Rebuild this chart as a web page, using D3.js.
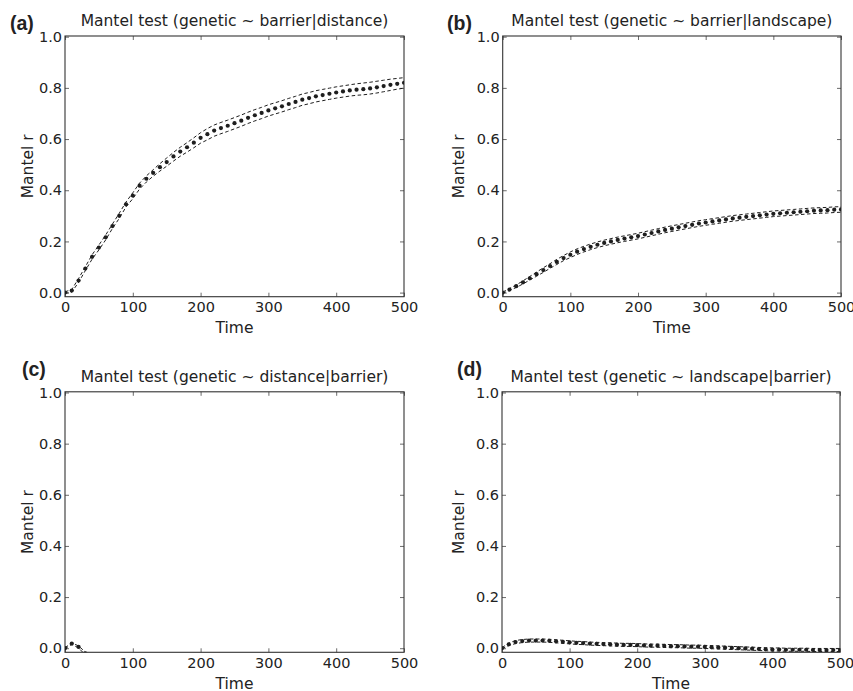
<!DOCTYPE html>
<html><head><meta charset="utf-8">
<script src="https://cdn.jsdelivr.net/npm/d3@7"></script>
<style>
body{margin:0;background:#fff;}
svg text{font-family:"DejaVu Sans",sans-serif;fill:#222;}
</style></head>
<body><svg id="c" width="853" height="691"></svg>
<script>
// ---- data ----
const times = [0,10,20,30,40,50,60,70,80,90,100,110,120,130,140,150,160,170,180,190,200,210,220,230,240,250,260,270,280,290,300,310,320,330,340,350,360,370,380,390,400,410,420,430,440,450,460,470,480,490,500];
const xTicks = [0,100,200,300,400,500];
const yTicks = [0.0,0.2,0.4,0.6,0.8,1.0];
const panelLabels = ["(a)","(b)","(c)","(d)"];
const titles = ["Mantel test (genetic ~ barrier|distance)","Mantel test (genetic ~ barrier|landscape)","Mantel test (genetic ~ distance|barrier)","Mantel test (genetic ~ landscape|barrier)"];

const aMean  = [0,0.008,0.047,0.094,0.14,0.176,0.216,0.26,0.3,0.345,0.379,0.418,0.445,0.468,0.49,0.51,0.532,0.551,0.568,0.586,0.605,0.619,0.633,0.643,0.652,0.662,0.672,0.683,0.693,0.702,0.712,0.72,0.728,0.737,0.745,0.754,0.76,0.767,0.772,0.777,0.782,0.786,0.79,0.793,0.795,0.798,0.802,0.807,0.812,0.816,0.82];
const aUpper = [0.003,0.012,0.055,0.101,0.148,0.186,0.225,0.268,0.31,0.354,0.39,0.428,0.456,0.48,0.504,0.526,0.548,0.568,0.586,0.605,0.625,0.641,0.655,0.665,0.674,0.684,0.694,0.705,0.715,0.724,0.734,0.742,0.75,0.759,0.767,0.776,0.782,0.789,0.794,0.799,0.804,0.808,0.812,0.816,0.819,0.822,0.826,0.83,0.834,0.837,0.84];
const aLower = [-0.003,0.002,0.04,0.086,0.131,0.167,0.206,0.251,0.29,0.335,0.367,0.405,0.432,0.455,0.475,0.494,0.514,0.533,0.549,0.566,0.584,0.597,0.611,0.621,0.63,0.64,0.65,0.661,0.671,0.68,0.69,0.698,0.706,0.715,0.723,0.732,0.738,0.745,0.75,0.755,0.76,0.764,0.768,0.771,0.773,0.776,0.78,0.785,0.79,0.795,0.799];

const bMean  = [0,0.012,0.025,0.04,0.056,0.072,0.088,0.104,0.12,0.135,0.148,0.16,0.17,0.179,0.187,0.194,0.2,0.206,0.211,0.216,0.221,0.227,0.233,0.239,0.245,0.25,0.255,0.26,0.265,0.27,0.274,0.278,0.282,0.286,0.29,0.293,0.296,0.299,0.302,0.305,0.308,0.31,0.312,0.314,0.316,0.318,0.32,0.321,0.322,0.324,0.325];
const bUpper = [0.002,0.016,0.03,0.046,0.063,0.08,0.097,0.113,0.13,0.145,0.159,0.171,0.181,0.19,0.198,0.205,0.211,0.217,0.222,0.227,0.232,0.238,0.244,0.25,0.256,0.261,0.266,0.271,0.276,0.281,0.285,0.289,0.293,0.297,0.301,0.304,0.307,0.31,0.313,0.316,0.319,0.321,0.323,0.325,0.327,0.329,0.331,0.332,0.333,0.335,0.336];
const bLower = [-0.002,0.008,0.02,0.034,0.049,0.064,0.079,0.095,0.11,0.125,0.137,0.149,0.159,0.168,0.176,0.183,0.189,0.195,0.2,0.205,0.21,0.216,0.222,0.228,0.234,0.239,0.244,0.249,0.254,0.259,0.263,0.267,0.271,0.275,0.279,0.282,0.285,0.288,0.291,0.294,0.297,0.299,0.301,0.303,0.305,0.307,0.309,0.31,0.311,0.313,0.314];

const cTimes = [0,10,20,30];
const cMean  = [0,0.018,0.005,-0.02];
const cUpper = [0.002,0.021,0.009,-0.015];
const cLower = [-0.002,0.015,0.001,-0.026];

const dMean  = [0,0.015,0.024,0.028,0.03,0.03,0.03,0.029,0.027,0.025,0.023,0.021,0.02,0.018,0.017,0.016,0.015,0.014,0.013,0.013,0.012,0.011,0.01,0.01,0.009,0.008,0.008,0.007,0.006,0.006,0.005,0.004,0.003,0.002,0.001,0,-0.001,-0.002,-0.003,-0.004,-0.005,-0.005,-0.006,-0.006,-0.006,-0.006,-0.007,-0.007,-0.007,-0.007,-0.007];
const dUpper = [0.002,0.02,0.03,0.034,0.036,0.036,0.036,0.035,0.033,0.031,0.029,0.027,0.026,0.024,0.023,0.022,0.021,0.02,0.019,0.019,0.018,0.017,0.016,0.016,0.015,0.014,0.014,0.013,0.012,0.012,0.011,0.01,0.009,0.008,0.007,0.006,0.005,0.004,0.003,0.002,0.001,0.001,0,0,0,0,-0.001,-0.001,-0.001,-0.001,-0.001];
const dLower = [-0.002,0.01,0.018,0.022,0.024,0.024,0.024,0.023,0.021,0.019,0.017,0.015,0.014,0.012,0.011,0.01,0.009,0.008,0.007,0.007,0.006,0.005,0.004,0.004,0.003,0.002,0.002,0.001,0,0,-0.001,-0.002,-0.003,-0.004,-0.005,-0.006,-0.007,-0.008,-0.009,-0.01,-0.011,-0.011,-0.012,-0.012,-0.012,-0.012,-0.013,-0.013,-0.013,-0.013,-0.013];

// ---- layout ----
const svg = d3.select("#c");
const boxes = [
  {x0:65,  x1:404, y0:36,  y1:296.7, lx:28,  labX:10,  labY:30},
  {x0:502.7, x1:841, y0:36,  y1:296.7, lx:459, labX:447, labY:30},
  {x0:65,  x1:404, y0:391.8, y1:652.3, lx:28,  labX:22,  labY:376},
  {x0:502, x1:840, y0:391.8, y1:652.3, lx:459, labX:457, labY:376}
];
const series = [
  {t:times, m:aMean, u:aUpper, l:aLower},
  {t:times, m:bMean, u:bUpper, l:bLower},
  {t:cTimes, m:cMean, u:cUpper, l:cLower},
  {t:times, m:dMean, u:dUpper, l:dLower}
];
const ink = "#1e1e1e";

boxes.forEach((b,i)=>{
  const x = d3.scaleLinear().domain([0,500]).range([b.x0,b.x1]);
  const y = d3.scaleLinear().domain([-0.016,1.0]).range([b.y1,b.y0+0.7]);
  const g = svg.append("g");
  const cid = "clip"+i;
  svg.append("clipPath").attr("id",cid).append("rect")
    .attr("x",b.x0).attr("y",b.y0).attr("width",b.x1-b.x0).attr("height",b.y1-b.y0);

  // axes
  const ax = [
    d3.axisBottom(x).tickValues(xTicks).tickSize(-4).tickPadding(5).tickFormat(d3.format("d")),
    d3.axisTop(x).tickValues(xTicks).tickSize(-4).tickFormat(""),
    d3.axisLeft(y).tickValues(yTicks).tickSize(-4).tickPadding(3).tickFormat(d3.format(".1f")),
    d3.axisRight(y).tickValues(yTicks).tickSize(-4).tickFormat("")
  ];
  const pos = [[0,b.y1],[0,b.y0],[b.x0,0],[b.x1,0]];
  ax.forEach((a,k)=>{
    const ag = g.append("g").attr("transform",`translate(${pos[k][0]},${pos[k][1]})`).call(a);
    ag.select(".domain").remove();
    ag.selectAll("line").attr("stroke","#444").attr("stroke-width",0.8);
    ag.selectAll("text").style("font-size","14.5px").attr("fill",ink);
  });
  g.append("rect").attr("x",b.x0).attr("y",b.y0).attr("width",b.x1-b.x0).attr("height",b.y1-b.y0)
    .attr("fill","none").attr("stroke","#333").attr("stroke-width",1.1);

  // data
  const s = series[i];
  const pl = g.append("g").attr("clip-path",`url(#${cid})`);
  const line = arr => d3.line().x((d,j)=>x(s.t[j])).y(d=>y(d))(arr);
  [s.u,s.l].forEach(arr=>{
    pl.append("path").attr("d",line(arr)).attr("fill","none")
      .attr("stroke",ink).attr("stroke-width",1).attr("stroke-dasharray","3.5,2.5");
  });
  pl.selectAll("circle.m").data(s.m).join("circle")
    .attr("cx",(d,j)=>x(s.t[j])).attr("cy",d=>y(d)).attr("r",2.1).attr("fill",ink);

  // texts
  g.append("text").attr("x",(b.x0+b.x1)/2).attr("y",b.y0-10).attr("text-anchor","middle")
    .style("font-size","15.5px").text(titles[i]);
  g.append("text").attr("x",(b.x0+b.x1)/2).attr("y",b.y1+36.5).attr("text-anchor","middle")
    .style("font-size","15.5px").text("Time");
  g.append("text").attr("transform",`translate(${b.lx+5},${(b.y0+b.y1)/2}) rotate(-90)`)
    .attr("text-anchor","middle").style("font-size","15.5px").text("Mantel r");
  g.append("text").attr("x",b.labX).attr("y",b.labY)
    .style("font-family","'Liberation Sans',Arial,sans-serif").style("font-weight","bold")
    .style("font-size","19.5px").text(panelLabels[i]);
});
</script></body></html>
